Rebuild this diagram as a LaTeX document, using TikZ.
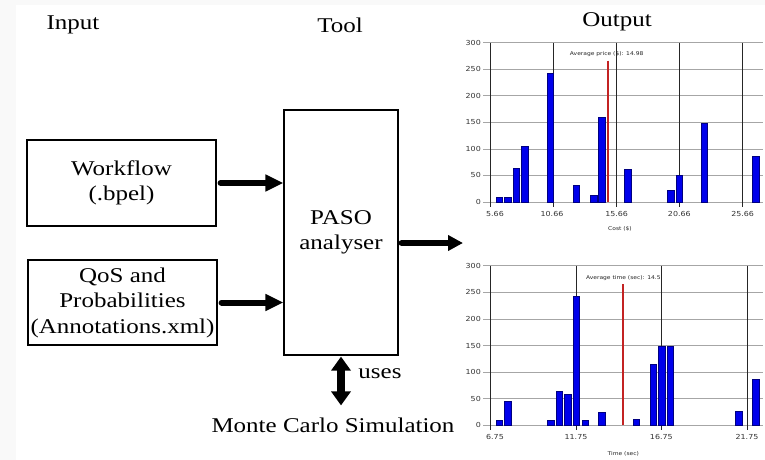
\documentclass[tikz,border=0pt]{standalone}
\usepackage{fontspec}
\setmainfont[FakeStretch=1.19]{Liberation Serif}
\newfontfamily\chartfont[FakeStretch=1.15]{DejaVu Sans}
\usetikzlibrary{arrows.meta}
\definecolor{barblue}{RGB}{0,0,235}
\definecolor{avgred}{RGB}{195,35,35}
\tikzset{
  box/.style={draw, line width=1.2pt, inner sep=0pt, align=center, font=\fontsize{21}{25.5}\selectfont},
  lbl/.style={inner sep=0pt, font=\fontsize{21}{25.5}\selectfont},
  bigarrow/.style={line width=6pt, line cap=round, -{Triangle[length=18pt,width=16pt]}},
  hgrid/.style={draw=gray!70, line width=0.6pt},
  vgrid/.style={draw=black!85, line width=0.7pt},
  bar/.style={fill=barblue, draw=blue!50!black, line width=0.3pt},
  tick/.style={inner sep=0pt, font=\chartfont\fontsize{6.9}{8}\selectfont, text=black!80},
  small/.style={inner sep=0pt, font=\chartfont\fontsize{5.2}{6}\selectfont, text=black!85},
}
\begin{document}
\begin{tikzpicture}[x=1pt,y=-1pt]
\fill[gray!5] (0,0) rectangle (765,460);
\fill[white] (16,5) rectangle (765,460);
\useasboundingbox (0,0) rectangle (765,460);

% headers
\node[lbl] (hin) at (73,25) {Input};
\node[lbl] (htool) at (340,25) {Tool};
\node[lbl] (hout) at (617,22) {Output};

% boxes
\node[box, minimum width=189pt, minimum height=86pt] (wf) at (121.5,183) {Workflow\\(.bpel)};
\node[box, minimum width=189pt, minimum height=85pt] (qos) at (122.5,302.5) {QoS and\\Probabilities\\(Annotations.xml)};
\node[box, minimum width=114pt, minimum height=245pt] (paso) at (341,232.5) {PASO\\analyser};
\node[lbl] (mc) at (333,425) {Monte Carlo Simulation};
\node[lbl] (uses) at (380,374) {uses};
\coordinate (outend) at (463,243);

% arrows
\draw[bigarrow] ([xshift=4pt]wf.east) -- (wf.east -| paso.west);
\draw[bigarrow] ([xshift=4pt]qos.east) -- (qos.east -| paso.west);
\draw[bigarrow, -{Triangle[length=15pt,width=15pt]}] ([xshift=3pt]paso.east |- outend) -- (outend);
\draw[line width=7.5pt, {Triangle[length=14pt,width=19pt]}-{Triangle[length=14pt,width=19pt]}]
  ([yshift=-1pt]paso.south) -- ([yshift=12pt]mc.north -| paso.south);

% chart 1
\begin{scope}[shift={(450,30)}, scale=1/3]
  \foreach \v/\l in {0/0,1/50,2/100,3/150,4/200,5/250,6/300} {
    \draw[hgrid] (100,{516-\v*79.67}) -- (940,{516-\v*79.67});
    \node[tick, anchor=east] at (93,{516-\v*79.67}) {\l};
  }
  \foreach \x in {120,310,500,688,878} \draw[vgrid] (\x,38) -- (\x,530);
  \foreach \x/\l in {135/5.66,306/10.66,500/15.66,688/20.66,878/25.66}
    \node[tick] at (\x,551) {\l};
  \foreach \a/\b/\h in {137/157/10,162/182/10,188/207/64,214/233/105,291/310/242,369/388/31,419/440/12,444/464/159,522/542/62,651/671/23,677/697/50,752/772/149,907/927/87}
    \draw[bar] (\a,516) rectangle (\b,{516-\h*1.593});
  \draw[avgred, line width=1.3pt] (474,92) -- (474,516);
  \node[small] at (470,72) {Average price (\$): 14.98};
  \node[small] at (510,598) {Cost (\$)};
\end{scope}

% chart 2
\begin{scope}[shift={(450,255)}, scale=1/3]
  \foreach \v/\l in {0/0,1/50,2/100,3/150,4/200,5/250,6/300} {
    \draw[hgrid] (100,{511-\v*79.83}) -- (940,{511-\v*79.83});
    \node[tick, anchor=east] at (93,{511-\v*79.83}) {\l};
  }
  \foreach \x in {120,378,634,891} \draw[vgrid] (\x,32) -- (\x,525);
  \foreach \x/\l in {135/6.75,378/11.75,634/16.75,891/21.75}
    \node[tick] at (\x,545) {\l};
  \foreach \a/\b/\h in {137/157/9,162/182/46,291/311/9,317/336/64,343/362/58,369/388/242,395/414/9,445/464/24,548/568/11,599/619/115,625/645/149,651/670/148,856/876/26,907/927/87}
    \draw[bar] (\a,511) rectangle (\b,{511-\h*1.597});
  \draw[avgred, line width=1.3pt] (519,88) -- (519,511);
  \node[small] at (520,68) {Average time (sec): 14.5};
  \node[small] at (520,597) {Time (sec)};
\end{scope}
\end{tikzpicture}
\end{document}
